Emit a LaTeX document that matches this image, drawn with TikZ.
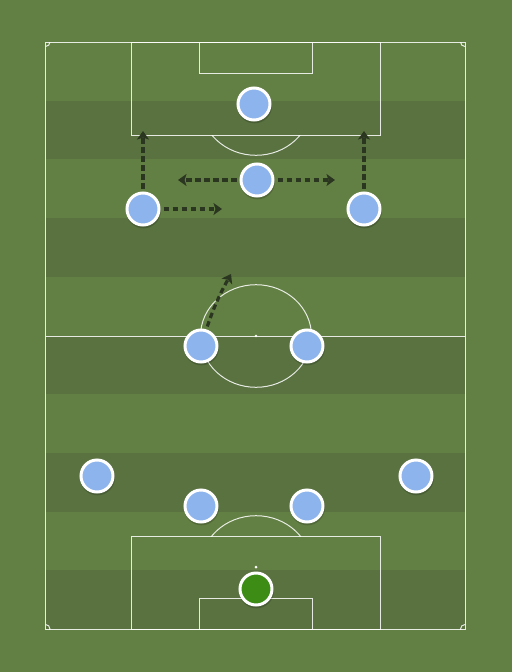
\documentclass[tikz,border=0pt]{standalone}
\usetikzlibrary{arrows.meta}
\definecolor{grassA}{RGB}{99,128,68}
\definecolor{grassB}{RGB}{89,114,64}
\definecolor{plblue}{RGB}{141,180,236}
\definecolor{gkgreen}{RGB}{60,140,22}
\definecolor{runcol}{RGB}{42,54,32}
\begin{document}
\begin{tikzpicture}[x=1pt,y=-1pt,
  pline/.style={draw=white,draw opacity=0.85,line width=1pt},
  player/.style={circle,minimum size=32pt,inner sep=0pt,fill=plblue,draw=white,line width=3pt},
  keeper/.style={player,fill=gkgreen},
  run/.style={draw=runcol,line width=3.2pt,dash pattern=on 5.5pt off 3.5pt,shorten <=3pt,-{Stealth[length=8.5pt,width=12pt,inset=2pt]}}]
\useasboundingbox (0,0) rectangle (512,672);
\fill[grassA] (0,0) rectangle (512,672);
\foreach \i in {1,3,5,7,9}{
  \fill[grassB] (45.5,{42+\i*58.7}) rectangle (465,{42+(\i+1)*58.7});
}
% pitch lines
\draw[pline] (45.5,42) rectangle (465,629);
\draw[pline] (45.5,336) -- (465,336);
\draw[pline] (256,336) ellipse [x radius=55.5,y radius=51.3];
\fill[white] (256,336) circle (1.3);
\draw[pline] (131,42) rectangle (380,135);
\draw[pline] (199,42) rectangle (312,73);
\draw[pline] (131,629) rectangle (380,536);
\draw[pline] (199,629) rectangle (312,598);
\fill[white] (256,567) circle (1.5);
\begin{scope}
  \clip (0,135) rectangle (512,672);
  \draw[pline] (256,104) ellipse [x radius=55.5,y radius=51.3];
\end{scope}
\begin{scope}
  \clip (0,0) rectangle (512,536);
  \draw[pline] (256,567) ellipse [x radius=55.5,y radius=51.3];
\end{scope}
% corner arcs
\begin{scope}
  \clip (45.5,42) rectangle (465,629);
  \draw[pline] (45.5,42) circle (4.5);
  \draw[pline] (465,42) circle (4.5);
  \draw[pline] (45.5,629) circle (4.5);
  \draw[pline] (465,629) circle (4.5);
\end{scope}
% shadows
\foreach \p in {(254,104),(257,180),(143,209),(364,209),(201,346),(307,346),(97,476),(416,476),(201,506),(307,506),(256,589)}{
  \fill[black,opacity=0.18] \p ++(0.5,1.8) circle (17.5);
}
% players
\node[player] (st) at (254,104) {};
\node[player] (am) at (257,180) {};
\node[player] (lw) at (143,209) {};
\node[player] (rw) at (364,209) {};
\node[player] (lcm) at (201,346) {};
\node[player] (rcm) at (307,346) {};
\node[player] (lb) at (97,476) {};
\node[player] (rb) at (416,476) {};
\node[player] (lcb) at (201,506) {};
\node[player] (rcb) at (307,506) {};
\node[keeper] (gk) at (256,589) {};
% runs
\coordinate (lwup) at (143,131);
\coordinate (lwin) at (222,209);
\coordinate (amleft) at (178,180);
\coordinate (amright) at (335,180);
\coordinate (rwup) at (364,131);
\coordinate (cmrun) at (231,274);
\draw[run] (lw) -- (lwup);
\draw[run] (lw) -- (lwin);
\draw[run] (am) -- (amleft);
\draw[run] (am) -- (amright);
\draw[run] (rw) -- (rwup);
\draw[run] (lcm) to[bend left=5] (cmrun);
\end{tikzpicture}
\end{document}
